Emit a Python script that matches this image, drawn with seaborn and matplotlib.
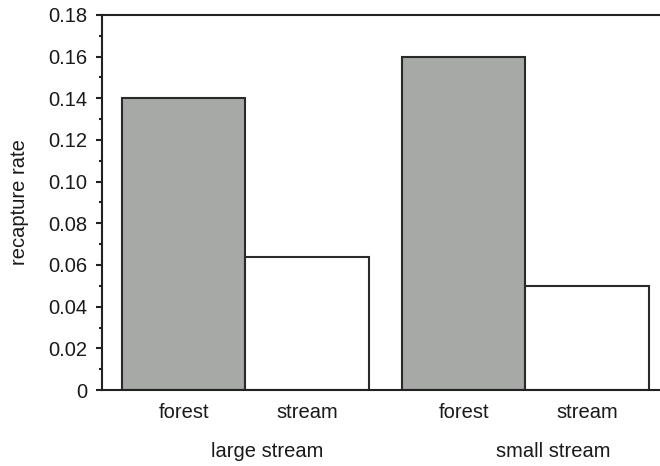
import pandas as pd
import matplotlib.pyplot as plt
import matplotlib.transforms as mtransforms
from matplotlib.ticker import MultipleLocator, FuncFormatter
import seaborn as sns

sns.set_style("white")
plt.rcParams['font.family'] = ['Liberation Sans', 'DejaVu Sans']

# data
groups = ['large stream', 'small stream']
habitats = ['forest', 'stream']
rates = [0.14, 0.064, 0.16, 0.05]

df = pd.DataFrame({
    'group': [g for g in groups for _ in habitats],
    'habitat': habitats * len(groups),
    'rate': rates,
})

fs = 14.5
fig = plt.figure(figsize=(6.6, 4.66), dpi=100)
ax = fig.add_axes([0.155, 0.163, 0.845, 0.805])

sns.barplot(data=df, x='group', y='rate', hue='habitat', order=groups,
            hue_order=habitats, palette={'forest': '#a7a9a7', 'stream': 'white'},
            edgecolor='#2a2a2a', linewidth=1.5, width=0.88, legend=False,
            errorbar=None, ax=ax)

ax.set_xlim(-0.51, 1.48)
ax.set_ylim(0, 0.18)
ax.yaxis.set_major_locator(MultipleLocator(0.02))
ax.yaxis.set_minor_locator(MultipleLocator(0.01))
ax.yaxis.set_major_formatter(FuncFormatter(lambda v, p: '0' if abs(v) < 1e-9 else f'{v:.2f}'))
ax.tick_params(axis='y', which='major', direction='out', length=4.5, width=1.5,
               color='#222222', labelsize=fs, labelcolor='#1a1a1a', left=True, pad=6)
ax.tick_params(axis='y', which='minor', direction='out', length=2.5, width=1.5,
               color='#222222', left=True)

# habitat labels under each bar
positions = [g + o for g in range(len(groups)) for o in (-0.22, 0.22)]
ax.set_xticks(positions)
ax.set_xticklabels(habitats * len(groups), fontsize=fs, color='#1a1a1a')
ax.tick_params(axis='x', length=0, pad=9)

trans = mtransforms.blended_transform_factory(ax.transData, ax.transAxes)
for i, g in enumerate(groups):
    ax.text(i + 0.08 + 0.02 * i, -0.165, g, transform=trans, ha='center',
            va='center', fontsize=fs, color='#1a1a1a')

ax.set_xlabel('')
ax.set_ylabel('recapture rate', fontsize=fs, labelpad=14, color='#1a1a1a')

for side in ['left', 'bottom', 'top']:
    ax.spines[side].set_visible(True)
    ax.spines[side].set_color('#222222')
    ax.spines[side].set_linewidth(1.5)
ax.spines['right'].set_visible(False)

fig.savefig('out.png', dpi=100)
